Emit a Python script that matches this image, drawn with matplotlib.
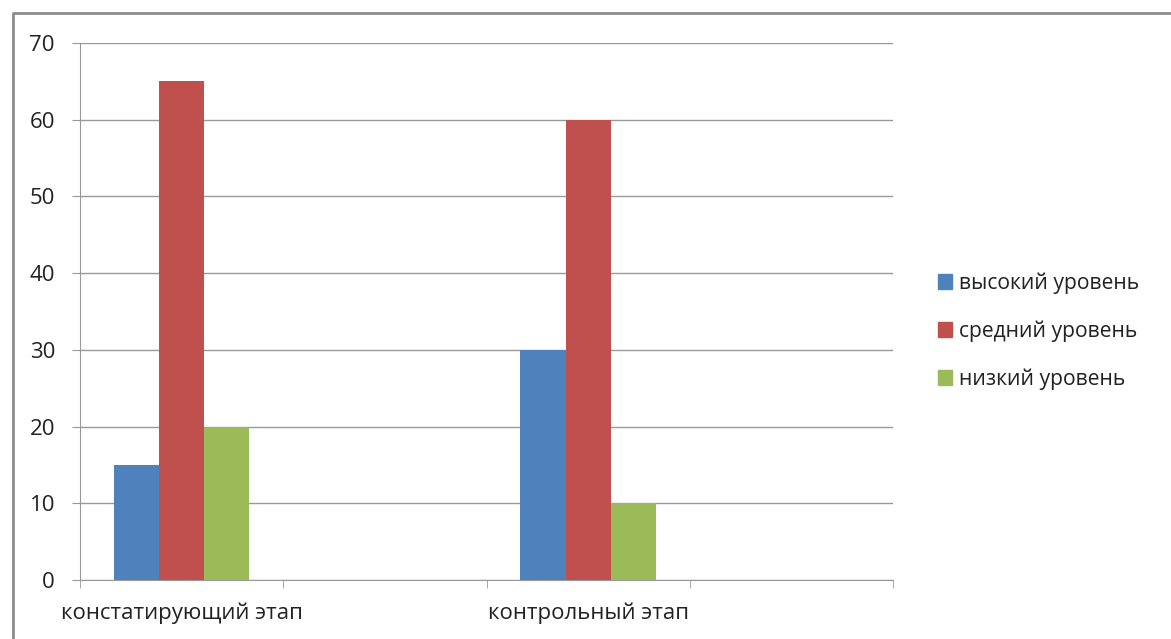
import matplotlib
matplotlib.use('Agg')
import matplotlib.pyplot as plt
import matplotlib.patches as mpatches
import matplotlib.lines as mlines
import numpy as np

categories = ['констатирующий этап', '', 'контрольный этап', '']
series_names = ['высокий уровень', 'средний уровень', 'низкий уровень']
high = [15, np.nan, 30, np.nan]
medium = [65, np.nan, 60, np.nan]
low = [20, np.nan, 10, np.nan]
colors = ['#4F81BD', '#C0504D', '#9BBB59']

plt.rcParams['font.family'] = ['Open Sans', 'DejaVu Sans']
W, H = 1171, 639
fig = plt.figure(figsize=(W / 100, H / 100), dpi=100)
ax = fig.add_axes([80 / W, 1 - 580 / H, (893 - 80) / W, (580 - 43) / H])

# outer chart frame (only top and left edges are visible)
frame_x = [13 / W, 13 / W, 1.0]
frame_y = [0.0, 1 - 13 / H, 1 - 13 / H]
fig.lines.append(mlines.Line2D(frame_x, frame_y, transform=fig.transFigure,
                               color='#8c8c8c', linewidth=2))

x = np.arange(len(categories))
w = 0.222
for i, (vals, name) in enumerate(zip([high, medium, low], series_names)):
    ax.bar(x + (i - 1) * w, vals, width=w, color=colors[i], label=name, zorder=3)

grey = '#999999'
ax.set_xlim(-0.5, len(categories) - 0.5)
ax.set_ylim(0, 70)
ax.set_yticks(range(0, 71, 10))
ax.yaxis.grid(True, color=grey, linewidth=1, zorder=0)
ax.set_xticks(x)
ax.set_xticklabels(categories)
ax.set_xticks(np.arange(-0.5, len(categories), 1), minor=True)
ax.tick_params(axis='x', which='major', length=0, pad=16, labelsize=16, labelcolor='#222222')
ax.tick_params(axis='x', which='minor', length=6, color=grey, direction='out')
ax.tick_params(axis='y', length=6, color=grey, pad=12, labelsize=16, labelcolor='#222222')
for s in ['top', 'right']:
    ax.spines[s].set_visible(False)
for s in ['left', 'bottom']:
    ax.spines[s].set_color(grey)

handles = [mpatches.Patch(color=c) for c in colors]
fig.legend(handles, series_names, loc='center left', bbox_to_anchor=(919 / W, 1 - 331 / H),
           frameon=False, fontsize=15.2, handlelength=0.65, handleheight=0.7,
           handletextpad=0.35, labelspacing=1.25, labelcolor='#222222')

fig.savefig('out.png', dpi=100)
